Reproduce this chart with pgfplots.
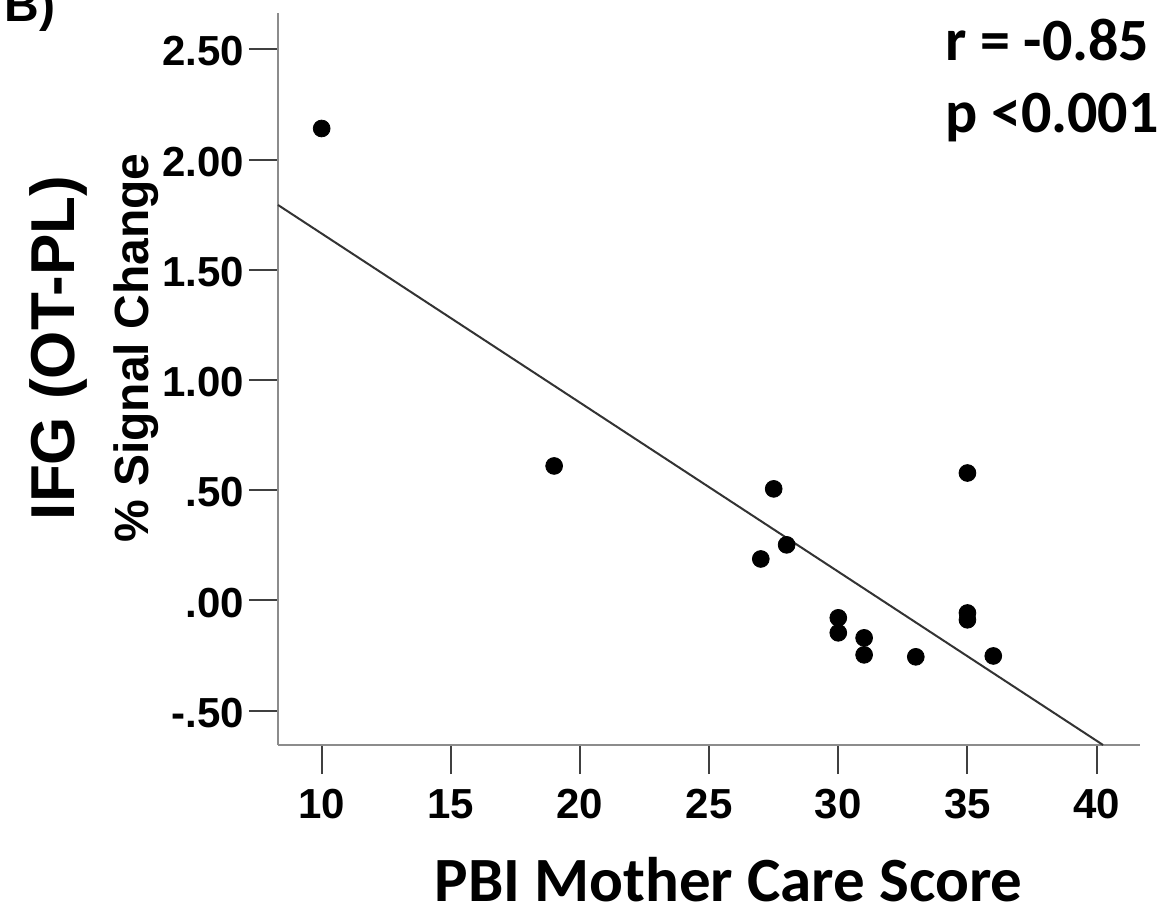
\documentclass[border=0pt]{standalone}
\usepackage{fontspec}
\setmainfont{Liberation Sans}
\newfontfamily\calibri{Carlito}
\usepackage{pgfplots}
\pgfplotsset{compat=1.18}

\pgfplotstableread{
x y
10 2.141
19 0.610
27 0.188
27.5 0.506
28 0.252
30 -0.079
30 -0.147
31 -0.170
31 -0.247
33 -0.256
35 0.578
35 -0.057
35 -0.088
36 -0.252
}\scores

\begin{document}
\begin{tikzpicture}
\useasboundingbox (0pt,0pt) rectangle (587pt,455.5pt);
\begin{axis}[
  at={(139pt,83pt)}, anchor=south west,
  scale only axis, width=431pt, height=366pt,
  xmin=8.31, xmax=41.68, ymin=-0.656, ymax=2.665,
  axis x line*=bottom, axis y line*=left,
  axis line style={draw=black!45, line width=1pt, -},
  xtick={10,15,20,25,30,35,40},
  ytick={-0.5,0,0.5,1,1.5,2,2.5},
  xticklabels={10,15,20,25,30,35,40},
  yticklabels={-.50,.00,.50,1.00,1.50,2.00,2.50},
  tick align=outside,
  major tick length=14.5pt,
  tick style={draw=black!75, line width=1pt},
  ticklabel style={font=\fontsize{21}{21.5}\selectfont\bfseries},
  typeset ticklabels with strut,
  xticklabel style={yshift=-3.5pt},
  yticklabel style={xshift=1pt, yshift=-4pt},
  clip=false,
]
% fit line
\addplot[draw=black!80, line width=1pt] coordinates {(8.31,1.794) (40.25,-0.656)};
\addplot[only marks, mark=*, mark size=4.2pt, black] table[x=x,y=y] {\scores};
\end{axis}
\node[rotate=90, anchor=base, inner sep=0pt, font=\fontsize{31}{36}\selectfont\bfseries] at (37.5pt,281.5pt) {IFG (OT-PL)};
\node[rotate=90, anchor=base, inner sep=0pt, font=\fontsize{24}{28}\selectfont\bfseries] at (74pt,281.5pt) {\% Signal Change};
\node[anchor=base, inner sep=0pt, font=\calibri\fontsize{31.5}{36}\selectfont\bfseries] at (364.25pt,4.5pt) {PBI Mother Care Score};
\node[anchor=base west, inner sep=0pt, font=\calibri\fontsize{30}{34}\selectfont\bfseries] at (472.5pt,425pt) {r = -0.85};
\node[anchor=base west, inner sep=0pt, font=\calibri\fontsize{30}{34}\selectfont\bfseries] at (472.5pt,389pt) {p <0.001};
\node[anchor=base west, inner sep=0pt, font=\fontsize{24}{28}\selectfont\bfseries] at (2pt,444.5pt) {B)};
\end{tikzpicture}
\end{document}
